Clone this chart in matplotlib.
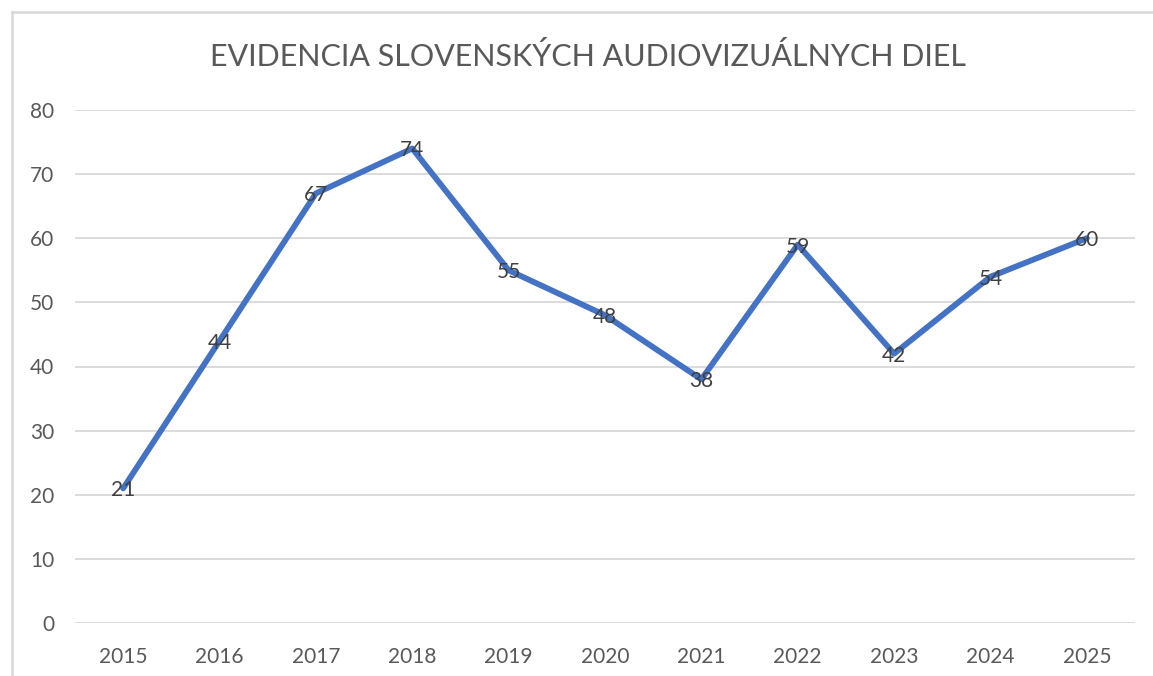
import matplotlib
matplotlib.use("Agg")
import matplotlib.pyplot as plt
from matplotlib.lines import Line2D

# data
years = ["2015", "2016", "2017", "2018", "2019", "2020", "2021", "2022", "2023", "2024", "2025"]
counts = [21, 44, 67, 74, 55, 48, 38, 59, 42, 54, 60]
title = "EVIDENCIA SLOVENSKÝCH AUDIOVIZUÁLNYCH DIEL"

plt.rcParams['font.family'] = ['Lato', 'DejaVu Sans']

W, H = 1153, 676
fig = plt.figure(figsize=(W / 100, H / 100), dpi=100)
ax = fig.add_axes([75 / W, 1 - 623 / H, (1135 - 75) / W, (623 - 110) / H])

# chart frame (only top and left edge visible in the crop)
fig.add_artist(Line2D([11.5 / W, 11.5 / W], [0, 1 - 11.5 / H], color="#d9d9d9", lw=1.8, transform=fig.transFigure))
fig.add_artist(Line2D([11.5 / W, 1], [1 - 11.5 / H, 1 - 11.5 / H], color="#d9d9d9", lw=1.8, transform=fig.transFigure))

x = list(range(len(years)))
ax.plot(x, counts, color="#4472C4", lw=4.2, solid_capstyle="round", solid_joinstyle="round", zorder=3)
for xi, v in zip(x, counts):
    ax.annotate(str(v), (xi, v), xytext=(0, -2), textcoords="offset pixels",
                ha="center", va="center", fontsize=15, color="#404040", zorder=4)

ax.set_xlim(-0.5, len(years) - 0.5)
ax.set_ylim(0, 80)
ax.set_yticks(range(0, 81, 10))
ax.set_xticks(x)
ax.set_xticklabels(years)
ax.grid(axis="y", color="#d9d9d9", lw=1.3)
ax.set_axisbelow(True)
for s in ax.spines.values():
    s.set_visible(False)
ax.tick_params(length=0, colors="#595959", labelsize=15)
ax.tick_params(axis="y", pad=15)
ax.tick_params(axis="x", pad=17)
for lab in ax.get_yticklabels():
    lab.set_horizontalalignment("right")

fig.text(588 / W, 1 - 57 / H, title, ha="center", va="center", fontsize=22, color="#595959")

fig.savefig("out.png", dpi=100, facecolor="white")
